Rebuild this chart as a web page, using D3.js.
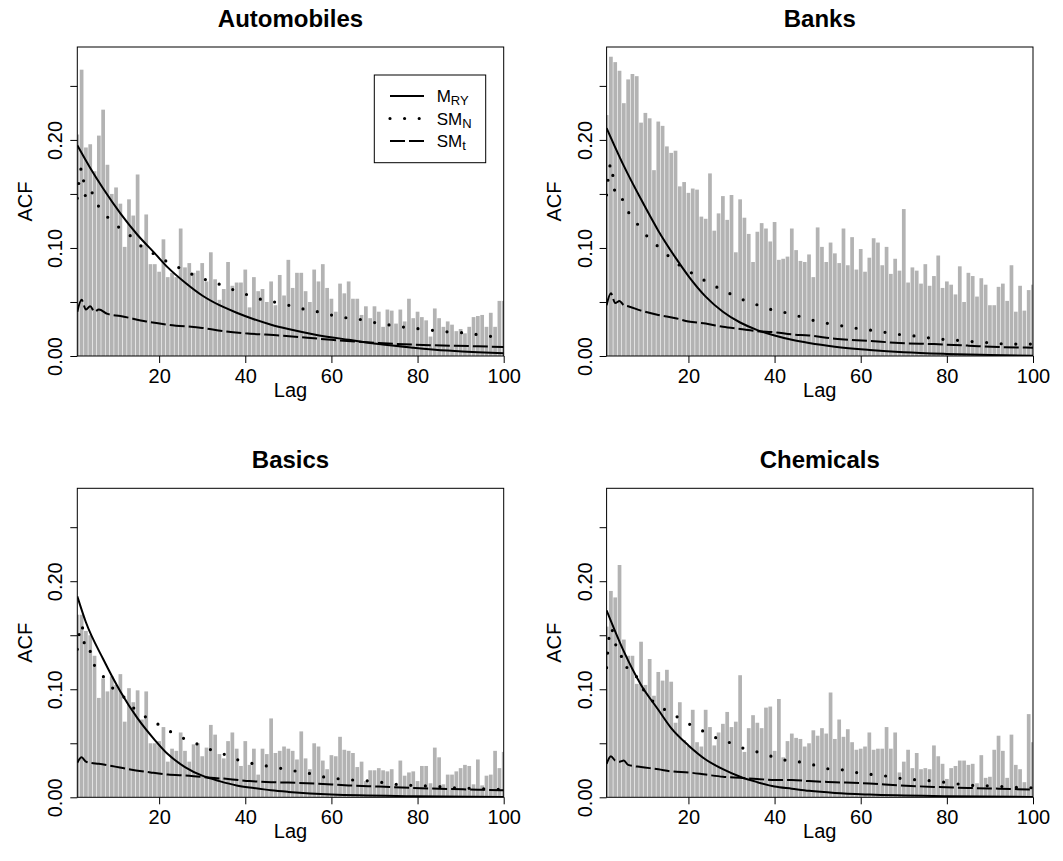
<!DOCTYPE html>
<html>
<head>
<meta charset="utf-8">
<script src="https://cdn.jsdelivr.net/npm/d3@7"></script>
<style>
    body { margin: 0; background: #fff; }
    svg text { font-family: "Liberation Sans", Arial, Helvetica, sans-serif; fill: #000; }
</style>
</head>
<body>
<svg id="chart"></svg>
<script>
var panelTitles = ["Automobiles", "Banks", "Basics", "Chemicals"];

// sample ACF, lags 1..100
var acfAutomobiles = [
    0.205, 0.265, 0.193, 0.196, 0.171, 0.204, 0.228, 0.177, 0.150, 0.156,
    0.141, 0.101, 0.145, 0.130, 0.168, 0.103, 0.131, 0.085, 0.085, 0.078,
    0.108, 0.073, 0.077, 0.073, 0.118, 0.082, 0.086, 0.077, 0.079, 0.086,
    0.069, 0.096, 0.071, 0.052, 0.062, 0.087, 0.065, 0.068, 0.068, 0.080,
    0.045, 0.073, 0.060, 0.062, 0.050, 0.069, 0.047, 0.075, 0.056, 0.089,
    0.063, 0.077, 0.077, 0.060, 0.050, 0.080, 0.069, 0.085, 0.063, 0.053,
    0.041, 0.067, 0.058, 0.069, 0.053, 0.053, 0.038, 0.046, 0.035, 0.046,
    0.041, 0.027, 0.043, 0.042, 0.030, 0.043, 0.032, 0.053, 0.035, 0.041,
    0.036, 0.033, 0.018, 0.044, 0.035, 0.027, 0.032, 0.029, 0.023, 0.025,
    0.021, 0.027, 0.036, 0.037, 0.038, 0.027, 0.040, 0.027, 0.051, 0.051
];
var acfBanks = [
    0.223, 0.277, 0.272, 0.264, 0.234, 0.256, 0.261, 0.259, 0.216, 0.225,
    0.220, 0.172, 0.217, 0.213, 0.194, 0.188, 0.190, 0.157, 0.161, 0.151,
    0.155, 0.154, 0.129, 0.127, 0.169, 0.116, 0.132, 0.148, 0.126, 0.149,
    0.096, 0.145, 0.128, 0.113, 0.087, 0.115, 0.123, 0.118, 0.106, 0.124,
    0.089, 0.090, 0.092, 0.118, 0.098, 0.088, 0.087, 0.094, 0.073, 0.119,
    0.101, 0.087, 0.105, 0.095, 0.086, 0.118, 0.084, 0.110, 0.080, 0.099,
    0.078, 0.091, 0.109, 0.105, 0.084, 0.101, 0.076, 0.090, 0.079, 0.136,
    0.068, 0.082, 0.079, 0.067, 0.085, 0.065, 0.074, 0.093, 0.063, 0.069,
    0.066, 0.057, 0.083, 0.050, 0.077, 0.074, 0.055, 0.072, 0.066, 0.047,
    0.047, 0.064, 0.067, 0.051, 0.084, 0.041, 0.065, 0.042, 0.061, 0.066
];
var acfBasics = [
    0.169, 0.169, 0.154, 0.150, 0.131, 0.092, 0.110, 0.098, 0.112, 0.104,
    0.114, 0.070, 0.101, 0.088, 0.099, 0.072, 0.098, 0.050, 0.050, 0.052,
    0.065, 0.033, 0.045, 0.043, 0.060, 0.043, 0.033, 0.049, 0.050, 0.038,
    0.046, 0.067, 0.058, 0.040, 0.036, 0.052, 0.060, 0.045, 0.029, 0.052,
    0.030, 0.045, 0.021, 0.045, 0.040, 0.073, 0.041, 0.043, 0.047, 0.045,
    0.043, 0.035, 0.061, 0.036, 0.026, 0.050, 0.047, 0.034, 0.026, 0.039,
    0.038, 0.056, 0.044, 0.043, 0.041, 0.028, 0.033, 0.015, 0.025, 0.025,
    0.027, 0.025, 0.024, 0.026, 0.012, 0.034, 0.020, 0.023, 0.024, 0.015,
    0.029, 0.029, 0.013, 0.046, 0.037, 0.012, 0.021, 0.021, 0.024, 0.027,
    0.030, 0.029, 0.012, 0.035, 0.011, 0.020, 0.021, 0.043, 0.027, 0.042
];
var acfChemicals = [
    0.158, 0.191, 0.185, 0.215, 0.146, 0.131, 0.131, 0.105, 0.144, 0.104,
    0.128, 0.094, 0.116, 0.108, 0.118, 0.107, 0.069, 0.088, 0.053, 0.048,
    0.081, 0.051, 0.047, 0.081, 0.065, 0.048, 0.060, 0.068, 0.079, 0.065,
    0.070, 0.113, 0.042, 0.064, 0.076, 0.069, 0.064, 0.083, 0.084, 0.043,
    0.091, 0.037, 0.052, 0.059, 0.055, 0.054, 0.047, 0.050, 0.062, 0.057,
    0.064, 0.059, 0.097, 0.054, 0.072, 0.056, 0.063, 0.051, 0.044, 0.045,
    0.047, 0.060, 0.044, 0.045, 0.045, 0.065, 0.045, 0.060, 0.023, 0.033,
    0.044, 0.027, 0.041, 0.026, 0.027, 0.026, 0.048, 0.038, 0.031, 0.017,
    0.027, 0.029, 0.034, 0.034, 0.030, 0.031, 0.013, 0.039, 0.018, 0.019,
    0.044, 0.057, 0.043, 0.018, 0.058, 0.030, 0.026, 0.014, 0.077, 0.051
];

// model ACF curves, [lag, value]
var mryAutomobiles = [[1,0.195],[4,0.174],[7,0.155],[11,0.132],[15,0.112],[19,0.095],[22,0.082],[26,0.068],[30,0.056],[34,0.047],[38,0.040],[42,0.034],[46,0.029],[50,0.025],[56,0.020],[64,0.015],[71,0.011],[79,0.0077],[87,0.005],[94,0.0034],[100,0.0025]];
var smnAutomobiles = [[1,0.146],[2,0.174],[3,0.147],[4,0.154],[5,0.145],[7,0.133],[9,0.125],[11,0.118],[14,0.109],[16,0.101],[19,0.094],[22,0.087],[25,0.081],[28,0.075],[32,0.069],[35,0.065],[38,0.060],[41,0.056],[44,0.052],[48,0.049],[51,0.046],[54,0.043],[58,0.040],[61,0.037],[64,0.035],[68,0.033],[71,0.030],[75,0.028],[78,0.026],[81,0.025],[85,0.023],[88,0.022],[92,0.021],[95,0.019],[98,0.018],[100,0.018]];
var smtAutomobiles = [[1,0.041],[2,0.052],[3,0.043],[4,0.046],[5,0.041],[6,0.043],[8,0.039],[11,0.037],[17,0.032],[22,0.029],[30,0.026],[35,0.023],[40,0.021],[48,0.019],[60,0.015],[71,0.012],[83,0.010],[94,0.009],[100,0.0083]];

var mryBanks = [[1,0.211],[5,0.176],[9,0.145],[13,0.116],[17,0.091],[20,0.074],[24,0.055],[28,0.041],[32,0.031],[36,0.024],[40,0.019],[44,0.015],[48,0.012],[54,0.0086],[62,0.0056],[70,0.0034],[80,0.0019],[90,0.001],[100,0.0003]];
var smnBanks = [[1,0.149],[2,0.178],[3,0.152],[4,0.152],[5,0.141],[7,0.128],[9,0.118],[11,0.108],[14,0.098],[16,0.090],[19,0.081],[22,0.074],[25,0.067],[28,0.061],[31,0.055],[34,0.050],[37,0.046],[40,0.042],[44,0.039],[47,0.035],[50,0.032],[54,0.029],[57,0.027],[60,0.025],[64,0.023],[67,0.021],[71,0.019],[74,0.018],[77,0.016],[81,0.015],[84,0.014],[87,0.013],[91,0.012],[94,0.011],[98,0.011],[100,0.011]];
var smtBanks = [[1,0.047],[2,0.058],[3,0.049],[4,0.051],[5,0.047],[6,0.046],[9,0.042],[13,0.038],[17,0.035],[20,0.032],[24,0.030],[28,0.027],[32,0.025],[36,0.023],[40,0.022],[44,0.020],[48,0.019],[54,0.016],[62,0.014],[69,0.012],[77,0.011],[85,0.0096],[92,0.0083],[100,0.0077]];

var mryBasics = [[1,0.186],[3,0.162],[7,0.128],[11,0.098],[15,0.073],[19,0.053],[22,0.040],[26,0.028],[30,0.020],[34,0.015],[38,0.011],[42,0.0086],[46,0.0065],[50,0.005],[60,0.0025],[79,0.001],[100,0.0003]];
var smnBasics = [[1,0.137],[2,0.160],[3,0.134],[4,0.135],[5,0.122],[7,0.112],[9,0.102],[12,0.092],[14,0.083],[17,0.074],[20,0.067],[23,0.060],[26,0.054],[29,0.049],[32,0.044],[35,0.040],[38,0.035],[42,0.031],[45,0.029],[48,0.027],[52,0.024],[55,0.022],[58,0.019],[62,0.017],[65,0.016],[69,0.015],[72,0.0136],[75,0.012],[79,0.011],[82,0.0105],[86,0.0096],[89,0.0086],[92,0.0083],[96,0.0077],[100,0.0071]];
var smtBasics = [[1,0.032],[2,0.037],[3,0.033],[4,0.032],[6,0.031],[9,0.029],[13,0.026],[18,0.023],[22,0.021],[27,0.020],[32,0.018],[36,0.017],[41,0.015],[46,0.014],[50,0.0136],[56,0.0127],[64,0.011],[71,0.0099],[79,0.0086],[87,0.0077],[94,0.0071],[100,0.0065]];

var mryChemicals = [[1,0.173],[5,0.135],[9,0.104],[13,0.081],[16,0.064],[20,0.048],[24,0.035],[28,0.026],[32,0.019],[36,0.014],[40,0.010],[44,0.008],[48,0.006],[54,0.004],[62,0.0025],[80,0.001],[100,0.0003]];
var smnChemicals = [[1,0.120],[2,0.157],[3,0.143],[4,0.130],[5,0.131],[6,0.117],[7,0.116],[10,0.097],[12,0.088],[15,0.080],[18,0.073],[21,0.066],[24,0.060],[27,0.054],[30,0.050],[33,0.045],[37,0.041],[40,0.037],[43,0.034],[47,0.032],[50,0.029],[53,0.026],[57,0.025],[60,0.022],[63,0.021],[67,0.019],[70,0.017],[74,0.016],[77,0.015],[80,0.0136],[84,0.0117],[87,0.0108],[91,0.0105],[94,0.0096],[97,0.009],[100,0.0088]];
var smtChemicals = [[1,0.031],[2,0.038],[3,0.034],[4,0.033],[5,0.034],[6,0.030],[9,0.028],[13,0.026],[16,0.024],[20,0.023],[24,0.021],[28,0.019],[32,0.018],[36,0.017],[40,0.016],[44,0.016],[48,0.015],[54,0.014],[62,0.0127],[69,0.011],[77,0.0096],[85,0.0086],[92,0.008],[100,0.0071]];

var yTicks = [0, 0.05, 0.10, 0.15, 0.20, 0.25];
var yLabelled = [0, 0.10, 0.20];
var xTicks = [20, 40, 60, 80, 100];
var legendItems = [
    {base: "M", sub: "RY", key: "mry"},
    {base: "SM", sub: "N", key: "smn"},
    {base: "SM", sub: "t", key: "smt"}
];

var W = 1063, H = 861;
var plotLeft = 77.3, plotTop = 47, plotW = 426.4, plotH = 309;
var colStep = 529.3, rowStep = 441.3;

var lineStyles = {
    mry: {width: 2, dash: null, cap: "butt"},
    smn: {width: 3.2, dash: "0 14.6", cap: "round"},
    smt: {width: 2, dash: "15 4", cap: "butt"}
};

var panels = [
    {title: panelTitles[0], acf: acfAutomobiles, mry: mryAutomobiles, smn: smnAutomobiles, smt: smtAutomobiles},
    {title: panelTitles[1], acf: acfBanks, mry: mryBanks, smn: smnBanks, smt: smtBanks},
    {title: panelTitles[2], acf: acfBasics, mry: mryBasics, smn: smnBasics, smt: smtBasics},
    {title: panelTitles[3], acf: acfChemicals, mry: mryChemicals, smn: smnChemicals, smt: smtChemicals}
];

var svg = d3.select('#chart').attr('width', W).attr('height', H);
svg.append('rect').attr('width', W).attr('height', H).attr('fill', '#fff');

panels.forEach(function(p, i) {
    var col = i % 2, row = Math.floor(i / 2);
    var g = svg.append('g')
        .attr('transform', 'translate(' + (plotLeft + col * colStep) + ',' + (plotTop + row * rowStep) + ')');

    var x = d3.scaleLinear().domain([1, 100]).range([0, plotW]);
    var y = d3.scaleLinear().domain([0, 0.286]).range([plotH, 0]);
    var unit = x(2) - x(1);

    g.append('clipPath').attr('id', 'clip' + i)
        .append('rect').attr('width', plotW).attr('height', plotH);
    var inner = g.append('g').attr('clip-path', 'url(#clip' + i + ')');

    // acf bars
    inner.selectAll('rect.bar')
        .data(p.acf)
        .enter()
        .append('rect')
        .attr('class', 'bar')
        .attr('x', function(d, k) { return x(k + 1) - unit / 2 + 0.3; })
        .attr('width', unit - 0.6)
        .attr('y', function(d) { return y(d); })
        .attr('height', function(d) { return plotH - y(d); })
        .attr('fill', '#b3b3b3');

    var line = d3.line()
        .x(function(d) { return x(d[0]); })
        .y(function(d) { return y(d[1]); })
        .curve(d3.curveMonotoneX);

    ['smt', 'smn', 'mry'].forEach(function(key) {
        var st = lineStyles[key];
        inner.append('path')
            .datum(p[key])
            .attr('d', line)
            .attr('fill', 'none')
            .attr('stroke', '#000')
            .attr('stroke-width', st.width)
            .attr('stroke-linecap', st.cap)
            .attr('stroke-dasharray', st.dash);
    });

    // box
    g.append('rect')
        .attr('width', plotW).attr('height', plotH)
        .attr('fill', 'none').attr('stroke', '#000').attr('stroke-width', 1);

    // y axis
    var ya = g.append('g')
        .call(d3.axisLeft(y).tickValues(yTicks).tickSize(7).tickSizeOuter(0)
            .tickFormat(function(d) { return yLabelled.indexOf(d) >= 0 ? d.toFixed(2) : ''; }));
    ya.select('.domain').remove();
    ya.selectAll('line').attr('stroke', '#000');
    ya.selectAll('text')
        .attr('x', 0).attr('y', -15).attr('dy', null)
        .attr('transform', 'rotate(-90)')
        .style('text-anchor', 'middle')
        .style('font-size', '20px');

    // x axis
    var xa = g.append('g')
        .attr('transform', 'translate(0,' + plotH + ')')
        .call(d3.axisBottom(x).tickValues(xTicks).tickSize(7).tickSizeOuter(0));
    xa.select('.domain').remove();
    xa.selectAll('line').attr('stroke', '#000');
    xa.selectAll('text')
        .attr('y', 27).attr('dy', null)
        .style('font-size', '20px');

    g.append('text')
        .attr('x', plotW / 2).attr('y', -20)
        .attr('text-anchor', 'middle')
        .style('font-size', '24px').style('font-weight', 'bold')
        .text(p.title);

    g.append('text')
        .attr('transform', 'translate(-45.6,' + (plotH / 2) + ') rotate(-90)')
        .attr('text-anchor', 'middle')
        .style('font-size', '20px')
        .text('ACF');

    g.append('text')
        .attr('x', plotW / 2).attr('y', plotH + 41)
        .attr('text-anchor', 'middle')
        .style('font-size', '20px')
        .text('Lag');

    if (i === 0) {
        var lg = g.append('g').attr('transform', 'translate(297,28)');
        lg.append('rect')
            .attr('width', 111.4).attr('height', 87.7)
            .attr('fill', '#fff').attr('stroke', '#000').attr('stroke-width', 1);
        legendItems.forEach(function(it, j) {
            var st = lineStyles[it.key];
            var ly = 21 + j * 22.5;
            lg.append('line')
                .attr('x1', 15.7).attr('x2', 49.7)
                .attr('y1', ly).attr('y2', ly)
                .attr('stroke', '#000')
                .attr('stroke-width', st.width)
                .attr('stroke-linecap', st.cap)
                .attr('stroke-dasharray', st.dash);
            var t = lg.append('text')
                .attr('x', 62.4).attr('y', ly + 6.3)
                .style('font-size', '17px');
            t.append('tspan').text(it.base);
            t.append('tspan').attr('dy', 3).style('font-size', '13px').text(it.sub);
        });
    }
});
</script>
</body>
</html>
